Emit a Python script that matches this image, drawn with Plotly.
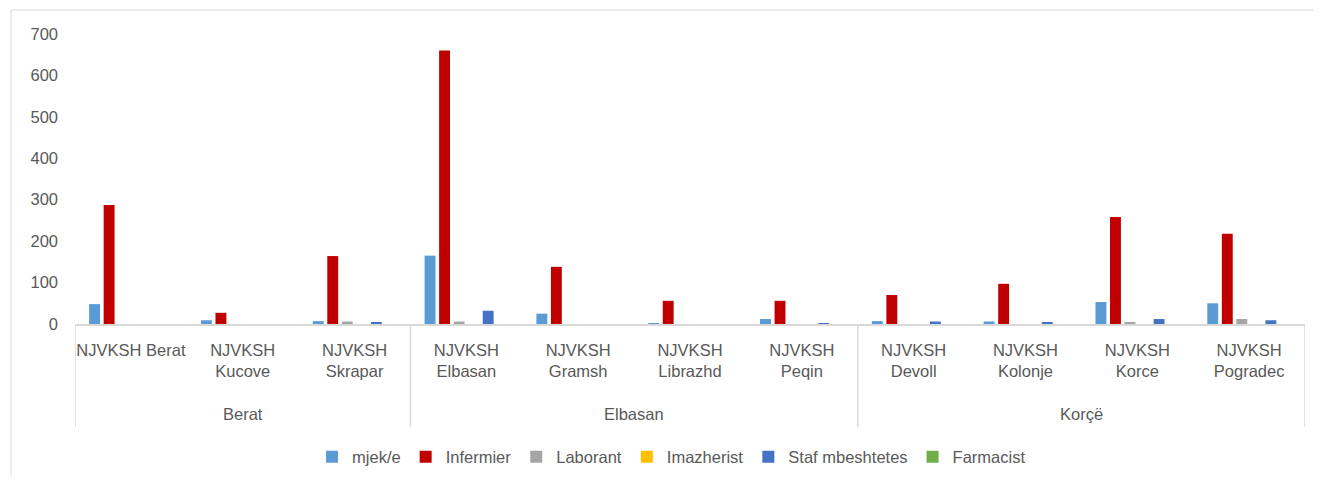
import plotly.graph_objects as go

units = ['NJVKSH Berat', 'NJVKSH<br>Kucove', 'NJVKSH<br>Skrapar',
         'NJVKSH<br>Elbasan', 'NJVKSH<br>Gramsh', 'NJVKSH<br>Librazhd', 'NJVKSH<br>Peqin',
         'NJVKSH<br>Devoll', 'NJVKSH<br>Kolonje', 'NJVKSH<br>Korce', 'NJVKSH<br>Pogradec']
regions = ['Berat', 'Elbasan', 'Korçë']
region_sizes = [3, 4, 4]

mjek = [48, 9, 7, 165, 25, 2, 12, 7, 6, 53, 50]
infermier = [287, 27, 164, 660, 138, 56, 56, 70, 97, 258, 218]
laborant = [0, 0, 6, 6, 0, 0, 0, 0, 0, 3, 12]
imazherist = [0, 0, 0, 0, 0, 0, 0, 0, 0, 0, 0]
staf = [0, 0, 3, 32, 0, 0, 2, 6, 3, 12, 9]
farmacist = [0, 0, 0, 0, 0, 0, 0, 0, 0, 0, 0]

series = [('mjek/e', mjek, '#5B9BD5'),
          ('Infermier', infermier, '#C00000'),
          ('Laborant', laborant, '#A5A5A5'),
          ('Imazherist', imazherist, '#FFC000'),
          ('Staf mbeshtetes', staf, '#4472C4'),
          ('Farmacist', farmacist, '#70AD47')]

fig = go.Figure()
for name, vals, col in series:
    fig.add_trace(go.Bar(x=list(range(len(units))), y=vals, name=name,
                         marker=dict(color=col, line=dict(width=0))))

# page has an 8px body margin, so the figure is a bit smaller than the window
OFF = 8
W, H = 1305, 468
ml, mr, mt, mb = 67, 8, 26, 152
pw, ph = W - ml - mr, H - mt - mb

def px_x(p):
    return (p - OFF - ml) / pw

def px_y(p):
    return (H - mb - (p - OFF)) / ph

grid = '#D9D9D9'
txt = '#595959'

# outer chart border
fig.add_shape(type='rect', xref='paper', yref='paper',
              x0=px_x(11), x1=px_x(1316), y0=px_y(490), y1=px_y(10),
              line=dict(color=grid, width=1))

# group dividers and group labels under the category labels
start = 0
edges = [-0.5]
for reg, n in zip(regions, region_sizes):
    mid = start + (n - 1) / 2
    fig.add_annotation(x=mid, xref='x', y=px_y(414), yref='paper', text=reg,
                       showarrow=False, yanchor='middle',
                       font=dict(size=16.5, color=txt))
    start += n
    edges.append(start - 0.5)
for e in edges:
    fig.add_shape(type='line', xref='x', yref='paper', x0=e, x1=e,
                  y0=0, y1=px_y(427), line=dict(color=grid, width=1.5))

fig.update_layout(
    width=W, height=H,
    margin=dict(l=ml, r=mr, t=mt, b=mb, autoexpand=False),
    barmode='group', bargap=0.22, bargroupgap=0.25,
    plot_bgcolor='white', paper_bgcolor='white',
    font=dict(family='Liberation Sans', size=16.5, color=txt),
    showlegend=True,
    legend=dict(orientation='h', x=0.485, xanchor='center', y=px_y(457), yanchor='middle',
                font=dict(size=16.5, color=txt), itemwidth=30, tracegroupgap=0),
    xaxis=dict(tickmode='array', tickvals=list(range(len(units))), ticktext=units,
               range=[-0.5, len(units) - 0.5],
               showline=True, linecolor=grid, linewidth=1.5,
               tickfont=dict(size=16.5, color=txt), ticks='', ticklabelstandoff=10),
    yaxis=dict(range=[0, 700], dtick=100, showgrid=False, zeroline=False,
               showline=False, tickfont=dict(size=16.5, color=txt), ticklabelstandoff=16),
)

fig.write_html('out.html')
